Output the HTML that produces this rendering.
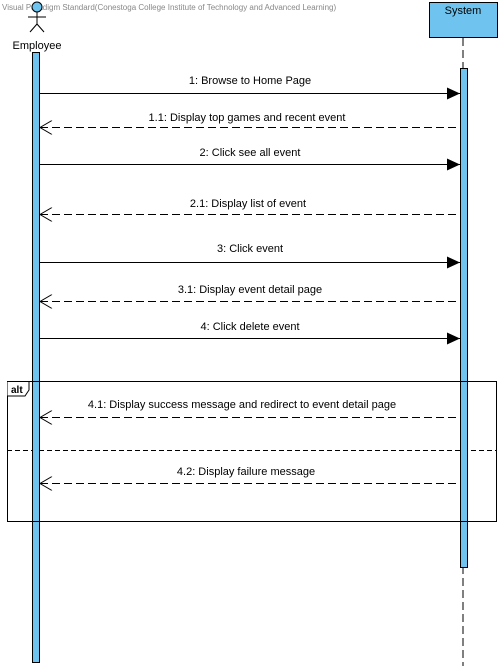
<!DOCTYPE html>
<html><head><style>body{margin:0;background:#fff}svg{display:block}text{font-family:"Liberation Sans",Arial,sans-serif}</style></head><body>
<svg width="503" height="666" viewBox="0 0 503 666" xmlns="http://www.w3.org/2000/svg">
<defs>
<marker id="f" markerWidth="14" markerHeight="12" refX="13" refY="6" orient="auto" markerUnits="userSpaceOnUse"><path d="M0,0 L13,6 L0,12 Z" fill="#000"/></marker>
<marker id="o" markerWidth="14" markerHeight="14" refX="1" refY="7" orient="auto" markerUnits="userSpaceOnUse"><path d="M13,0 L1,7 L13,14" fill="none" stroke="#000"/></marker>
</defs>
<text x="2" y="10" font-size="8" fill="#888">Visual Paradigm Standard(Conestoga College Institute of Technology and Advanced Learning)</text>
<circle cx="37" cy="7" r="5" fill="#6EC4EE" stroke="#000"/>
<line x1="37" y1="12" x2="37" y2="24" stroke="#000"/>
<line x1="28" y1="17" x2="46" y2="17" stroke="#000"/>
<line x1="37" y1="24" x2="30" y2="32" stroke="#000"/>
<line x1="37" y1="24" x2="44" y2="32" stroke="#000"/>
<text x="37" y="49" font-size="11" text-anchor="middle">Employee</text>
<rect x="32.5" y="52.5" width="7" height="610" fill="#6EC4EE" stroke="#000"/>
<rect x="429.5" y="2.5" width="68" height="35" fill="#6EC4EE" stroke="#000"/>
<text x="463" y="14" font-size="11" text-anchor="middle">System</text>
<line x1="463" y1="38" x2="463" y2="666" stroke="#000" stroke-dasharray="8,4"/>
<rect x="460.5" y="68.5" width="7" height="499" fill="#6EC4EE" stroke="#000"/>
<rect x="7.5" y="381.5" width="489" height="140" fill="none" stroke="#000"/>
<path d="M7.5,381.5 H29 V390 L25,396 H7.5" fill="#fff" stroke="#000"/>
<text x="11" y="393" font-size="10" font-weight="bold">alt</text>
<line x1="7" y1="450.5" x2="496" y2="450.5" stroke="#000" stroke-dasharray="5,3"/>
<rect x="32.5" y="381.5" width="7" height="140" fill="#6EC4EE" stroke="#000"/>
<rect x="460.5" y="381.5" width="7" height="140" fill="#6EC4EE" stroke="#000"/>
<g font-size="11" text-anchor="middle">
<line x1="40" y1="93.5" x2="460" y2="93.5" stroke="#000" marker-end="url(#f)"/>
<text x="250" y="84">1: Browse to Home Page</text>
<line x1="40" y1="127.5" x2="460" y2="127.5" stroke="#000" stroke-dasharray="8,4" marker-start="url(#o)"/>
<text x="247" y="121">1.1: Display top games and recent event</text>
<line x1="40" y1="164.5" x2="460" y2="164.5" stroke="#000" marker-end="url(#f)"/>
<text x="250" y="156">2: Click see all event</text>
<line x1="40" y1="214.5" x2="460" y2="214.5" stroke="#000" stroke-dasharray="8,4" marker-start="url(#o)"/>
<text x="248" y="207">2.1: Display list of event</text>
<line x1="40" y1="262.5" x2="460" y2="262.5" stroke="#000" marker-end="url(#f)"/>
<text x="250" y="252">3: Click event</text>
<line x1="40" y1="301.5" x2="460" y2="301.5" stroke="#000" stroke-dasharray="8,4" marker-start="url(#o)"/>
<text x="250" y="293">3.1: Display event detail page</text>
<line x1="40" y1="338.5" x2="460" y2="338.5" stroke="#000" marker-end="url(#f)"/>
<text x="250" y="330">4: Click delete event</text>
<line x1="40" y1="417.5" x2="460" y2="417.5" stroke="#000" stroke-dasharray="8,4" marker-start="url(#o)"/>
<text x="242" y="408">4.1: Display success message and redirect to event detail page</text>
<line x1="40" y1="483.5" x2="460" y2="483.5" stroke="#000" stroke-dasharray="8,4" marker-start="url(#o)"/>
<text x="246" y="475">4.2: Display failure message</text>
</g>
</svg>
</body></html>
